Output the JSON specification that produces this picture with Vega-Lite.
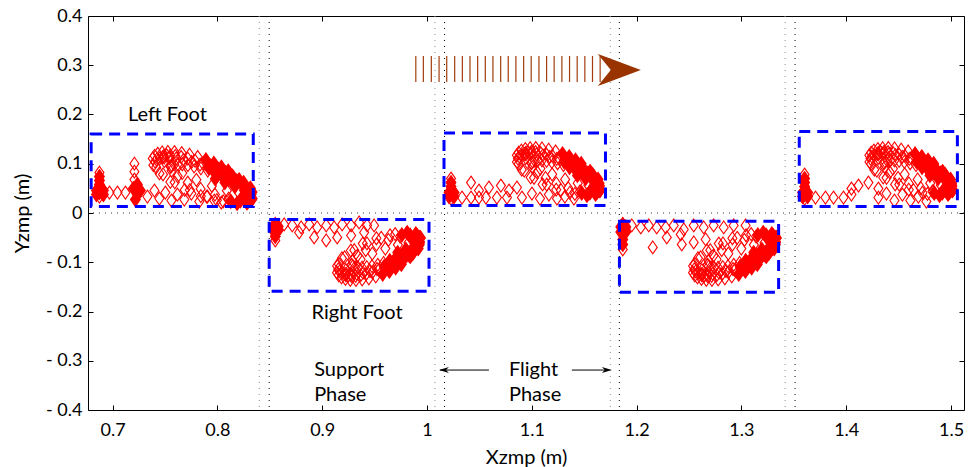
{
  "$schema": "https://vega.github.io/schema/vega-lite/v6.json",
  "width": 876,
  "height": 394,
  "autosize": {"type": "none"},
  "padding": {"left": 88, "top": 16, "right": 10, "bottom": 57},
  "background": "white",
  "config": {
    "view": {"stroke": "#000000", "strokeWidth": 1},
    "axis": {"labelFont": "Lato", "titleFont": "Lato", "grid": false}
  },
  "resolve": {"axis": {"x": "independent", "y": "independent"}},
  "datasets": {
    "zmp": [
      {"x":0.6874,"y":0.082},{"x":0.6874,"y":0.0739},{"x":0.6874,"y":0.0658},{"x":0.6874,"y":0.0577},{"x":0.6874,"y":0.0496},{"x":0.6874,"y":0.0415},{"x":0.6846,"y":0.0456},{"x":0.6912,"y":0.0456},{"x":0.6846,"y":0.0375},{"x":0.6912,"y":0.0375},{"x":0.6874,"y":0.0334},
      {"x":0.697,"y":0.0415},{"x":0.7046,"y":0.0415},{"x":0.7122,"y":0.0415},
      {"x":0.7208,"y":0.1002},{"x":0.7208,"y":0.084},{"x":0.7208,"y":0.0678},
      {"x":0.7198,"y":0.0496},{"x":0.7236,"y":0.0577},{"x":0.7236,"y":0.0375},{"x":0.7217,"y":0.0273},{"x":0.7265,"y":0.0456},
      {"x":0.7332,"y":0.0334},{"x":0.7399,"y":0.0456},{"x":0.7446,"y":0.0294},{"x":0.7503,"y":0.0415},{"x":0.7561,"y":0.0253},{"x":0.7618,"y":0.0375},{"x":0.7684,"y":0.0273},{"x":0.7751,"y":0.0395},{"x":0.7827,"y":0.0233},{"x":0.7904,"y":0.0334},{"x":0.797,"y":0.0253},{"x":0.8037,"y":0.0213},
      {"x":0.8327,"y":0.0273},{"x":0.8282,"y":0.0206},{"x":0.8188,"y":0.0194},{"x":0.8055,"y":0.0237},{"x":0.7898,"y":0.0332},{"x":0.7737,"y":0.0466},{"x":0.7593,"y":0.0622},{"x":0.7481,"y":0.0784},{"x":0.7416,"y":0.0929},{"x":0.7405,"y":0.1043},{"x":0.745,"y":0.111},{"x":0.7544,"y":0.1122},{"x":0.7677,"y":0.1079},{"x":0.7834,"y":0.0984},{"x":0.7995,"y":0.085},{"x":0.8139,"y":0.0694},{"x":0.8251,"y":0.0532},{"x":0.8316,"y":0.0387},
      {"x":0.833,"y":0.0424},{"x":0.8293,"y":0.0387},{"x":0.821,"y":0.0398},{"x":0.809,"y":0.0454},{"x":0.7947,"y":0.055},{"x":0.7799,"y":0.0674},{"x":0.7664,"y":0.081},{"x":0.7558,"y":0.0942},{"x":0.7493,"y":0.1055},{"x":0.7478,"y":0.1134},{"x":0.7515,"y":0.1171},{"x":0.7598,"y":0.116},{"x":0.7718,"y":0.1104},{"x":0.7861,"y":0.1008},{"x":0.8009,"y":0.0884},{"x":0.8144,"y":0.0748},{"x":0.825,"y":0.0616},{"x":0.8315,"y":0.0503},
      {"x":0.8271,"y":0.0369},{"x":0.8223,"y":0.0275},{"x":0.8127,"y":0.0238},{"x":0.7995,"y":0.026},{"x":0.7842,"y":0.0341},{"x":0.7688,"y":0.0469},{"x":0.7551,"y":0.063},{"x":0.7447,"y":0.0804},{"x":0.7389,"y":0.0971},{"x":0.7383,"y":0.1109},{"x":0.7431,"y":0.1203},{"x":0.7527,"y":0.124},{"x":0.7659,"y":0.1218},{"x":0.7812,"y":0.1137},{"x":0.7966,"y":0.1009},{"x":0.8103,"y":0.0848},{"x":0.8207,"y":0.0674},{"x":0.8265,"y":0.0507},
      {"x":0.8332,"y":0.0293},{"x":0.8297,"y":0.0247},{"x":0.8219,"y":0.0247},{"x":0.8107,"y":0.0291},{"x":0.7976,"y":0.0375},{"x":0.784,"y":0.0489},{"x":0.7717,"y":0.0617},{"x":0.7621,"y":0.0745},{"x":0.7563,"y":0.0859},{"x":0.7552,"y":0.0943},{"x":0.7587,"y":0.0989},{"x":0.7665,"y":0.0989},{"x":0.7777,"y":0.0945},{"x":0.7908,"y":0.0861},{"x":0.8044,"y":0.0747},{"x":0.8167,"y":0.0619},{"x":0.8263,"y":0.0491},{"x":0.8321,"y":0.0377},
      {"x":0.742,"y":0.1082},{"x":0.7491,"y":0.1123},{"x":0.7607,"y":0.1107},{"x":0.7754,"y":0.1037},{"x":0.7915,"y":0.0922},
      {"x":0.7489,"y":0.1159},{"x":0.7551,"y":0.1171},{"x":0.7654,"y":0.1137},{"x":0.7787,"y":0.106},{"x":0.7935,"y":0.0949},
      {"x":0.7401,"y":0.1162},{"x":0.7473,"y":0.1229},{"x":0.759,"y":0.1237},{"x":0.7734,"y":0.1185},{"x":0.789,"y":0.1078},
      {"x":0.7564,"y":0.0971},{"x":0.7621,"y":0.0994},{"x":0.7718,"y":0.0972},{"x":0.7842,"y":0.0907},{"x":0.7977,"y":0.0807},

      {"x":0.8552,"y":-0.0233},{"x":0.8552,"y":-0.0314},{"x":0.8552,"y":-0.0395},{"x":0.8552,"y":-0.0476},{"x":0.8552,"y":-0.0557},{"x":0.8533,"y":-0.0273},{"x":0.858,"y":-0.0273},{"x":0.8533,"y":-0.0354},{"x":0.858,"y":-0.0354},
      {"x":0.8637,"y":-0.0233},{"x":0.8714,"y":-0.0253},{"x":0.8799,"y":-0.0294},{"x":0.8876,"y":-0.0233},{"x":0.8952,"y":-0.0294},{"x":0.9038,"y":-0.0253},{"x":0.9114,"y":-0.0294},{"x":0.919,"y":-0.0233},{"x":0.9276,"y":-0.0253},{"x":0.9352,"y":-0.0192},{"x":0.9428,"y":-0.0253},{"x":0.9495,"y":-0.0253},
      {"x":0.8923,"y":-0.0496},{"x":0.9038,"y":-0.0557},{"x":0.9143,"y":-0.0496},{"x":0.9276,"y":-0.0456},{"x":0.94,"y":-0.0395},{"x":0.878,"y":-0.0395},
      {"x":0.9933,"y":-0.0495},{"x":0.9893,"y":-0.0424},{"x":0.9811,"y":-0.0401},{"x":0.9696,"y":-0.0428},{"x":0.9563,"y":-0.0503},{"x":0.9427,"y":-0.0617},{"x":0.9306,"y":-0.0754},{"x":0.9213,"y":-0.0899},{"x":0.9159,"y":-0.1036},{"x":0.9153,"y":-0.1145},{"x":0.9193,"y":-0.1216},{"x":0.9275,"y":-0.1239},{"x":0.939,"y":-0.1212},{"x":0.9523,"y":-0.1137},{"x":0.9659,"y":-0.1023},{"x":0.978,"y":-0.0886},{"x":0.9873,"y":-0.0741},{"x":0.9927,"y":-0.0604},
      {"x":0.9926,"y":-0.0646},{"x":0.9894,"y":-0.0606},{"x":0.9823,"y":-0.0606},{"x":0.9722,"y":-0.0647},{"x":0.9602,"y":-0.0723},{"x":0.9478,"y":-0.0827},{"x":0.9366,"y":-0.0943},{"x":0.9279,"y":-0.106},{"x":0.9226,"y":-0.1162},{"x":0.9216,"y":-0.1238},{"x":0.9248,"y":-0.1278},{"x":0.9319,"y":-0.1278},{"x":0.942,"y":-0.1237},{"x":0.954,"y":-0.1161},{"x":0.9664,"y":-0.1057},{"x":0.9776,"y":-0.0941},{"x":0.9863,"y":-0.0824},{"x":0.9916,"y":-0.0722},
      {"x":0.9887,"y":-0.0591},{"x":0.9844,"y":-0.0494},{"x":0.976,"y":-0.0446},{"x":0.9647,"y":-0.0452},{"x":0.9517,"y":-0.0513},{"x":0.9387,"y":-0.0621},{"x":0.9273,"y":-0.0762},{"x":0.9188,"y":-0.092},{"x":0.9142,"y":-0.1076},{"x":0.9141,"y":-0.1211},{"x":0.9184,"y":-0.1308},{"x":0.9268,"y":-0.1356},{"x":0.9381,"y":-0.135},{"x":0.9511,"y":-0.1289},{"x":0.9641,"y":-0.1181},{"x":0.9755,"y":-0.104},{"x":0.984,"y":-0.0882},{"x":0.9886,"y":-0.0726},
      {"x":0.9937,"y":-0.0507},{"x":0.9905,"y":-0.0458},{"x":0.9838,"y":-0.0449},{"x":0.9743,"y":-0.0479},{"x":0.9632,"y":-0.0546},{"x":0.9518,"y":-0.0642},{"x":0.9415,"y":-0.0753},{"x":0.9336,"y":-0.0867},{"x":0.9289,"y":-0.0972},{"x":0.9281,"y":-0.1053},{"x":0.9313,"y":-0.1102},{"x":0.938,"y":-0.1111},{"x":0.9475,"y":-0.1081},{"x":0.9586,"y":-0.1014},{"x":0.97,"y":-0.0918},{"x":0.9803,"y":-0.0807},{"x":0.9882,"y":-0.0693},{"x":0.9929,"y":-0.0588},
      {"x":0.9167,"y":-0.1186},{"x":0.9229,"y":-0.1233},{"x":0.9329,"y":-0.1231},{"x":0.9456,"y":-0.1179},{"x":0.9592,"y":-0.1084},
      {"x":0.9226,"y":-0.1264},{"x":0.928,"y":-0.1283},{"x":0.9367,"y":-0.1262},{"x":0.9479,"y":-0.1203},{"x":0.9602,"y":-0.1112},
      {"x":0.9158,"y":-0.1265},{"x":0.9222,"y":-0.1339},{"x":0.9322,"y":-0.136},{"x":0.9445,"y":-0.1326},{"x":0.9577,"y":-0.124},
      {"x":0.9292,"y":-0.1082},{"x":0.9342,"y":-0.1111},{"x":0.9425,"y":-0.1101},{"x":0.953,"y":-0.1051},{"x":0.9644,"y":-0.0969},

      {"x":1.0229,"y":0.0699},{"x":1.0229,"y":0.0618},{"x":1.0229,"y":0.0537},{"x":1.0229,"y":0.0456},{"x":1.0229,"y":0.0375},{"x":1.0229,"y":0.0294},{"x":1.021,"y":0.0415},{"x":1.0258,"y":0.0415},{"x":1.021,"y":0.0334},{"x":1.0258,"y":0.0334},
      {"x":1.0334,"y":0.0314},{"x":1.042,"y":0.0314},{"x":1.0496,"y":0.0314},{"x":1.0562,"y":0.0314},{"x":1.0667,"y":0.0314},{"x":1.0763,"y":0.0314},{"x":1.042,"y":0.0618},{"x":1.0496,"y":0.0456},{"x":1.0591,"y":0.0517},{"x":1.0705,"y":0.0557},{"x":1.0782,"y":0.0456},{"x":1.0858,"y":0.0517},
      {"x":1.0906,"y":0.0314},{"x":1.1001,"y":0.0395},{"x":1.1078,"y":0.0294},{"x":1.1163,"y":0.0375},{"x":1.124,"y":0.0294},{"x":1.1316,"y":0.0334},{"x":1.1402,"y":0.0294},
      {"x":1.1648,"y":0.0455},{"x":1.1608,"y":0.0384},{"x":1.1526,"y":0.0361},{"x":1.1411,"y":0.0388},{"x":1.1278,"y":0.0463},{"x":1.1142,"y":0.0577},{"x":1.1021,"y":0.0714},{"x":1.0928,"y":0.0859},{"x":1.0874,"y":0.0996},{"x":1.0868,"y":0.1105},{"x":1.0908,"y":0.1176},{"x":1.099,"y":0.1199},{"x":1.1105,"y":0.1172},{"x":1.1238,"y":0.1097},{"x":1.1374,"y":0.0983},{"x":1.1495,"y":0.0846},{"x":1.1588,"y":0.0701},{"x":1.1642,"y":0.0564},
      {"x":1.1642,"y":0.0605},{"x":1.161,"y":0.0565},{"x":1.1539,"y":0.0565},{"x":1.1438,"y":0.0606},{"x":1.1318,"y":0.0682},{"x":1.1194,"y":0.0786},{"x":1.1082,"y":0.0902},{"x":1.0995,"y":0.1019},{"x":1.0942,"y":0.1121},{"x":1.0932,"y":0.1197},{"x":1.0964,"y":0.1237},{"x":1.1035,"y":0.1237},{"x":1.1136,"y":0.1196},{"x":1.1256,"y":0.112},{"x":1.138,"y":0.1016},{"x":1.1492,"y":0.09},{"x":1.1579,"y":0.0783},{"x":1.1632,"y":0.0681},
      {"x":1.1603,"y":0.0551},{"x":1.156,"y":0.0454},{"x":1.1476,"y":0.0406},{"x":1.1363,"y":0.0412},{"x":1.1233,"y":0.0473},{"x":1.1103,"y":0.0581},{"x":1.0989,"y":0.0722},{"x":1.0904,"y":0.088},{"x":1.0858,"y":0.1036},{"x":1.0857,"y":0.1171},{"x":1.09,"y":0.1268},{"x":1.0984,"y":0.1316},{"x":1.1097,"y":0.131},{"x":1.1227,"y":0.1249},{"x":1.1357,"y":0.1141},{"x":1.1471,"y":0.1},{"x":1.1556,"y":0.0842},{"x":1.1602,"y":0.0686},
      {"x":1.1653,"y":0.0466},{"x":1.1621,"y":0.0417},{"x":1.1554,"y":0.0408},{"x":1.1459,"y":0.0438},{"x":1.1348,"y":0.0505},{"x":1.1234,"y":0.0601},{"x":1.1131,"y":0.0712},{"x":1.1052,"y":0.0826},{"x":1.1005,"y":0.0931},{"x":1.0997,"y":0.1012},{"x":1.1029,"y":0.1061},{"x":1.1096,"y":0.107},{"x":1.1191,"y":0.104},{"x":1.1302,"y":0.0973},{"x":1.1416,"y":0.0877},{"x":1.1519,"y":0.0766},{"x":1.1598,"y":0.0652},{"x":1.1645,"y":0.0547},
      {"x":1.0882,"y":0.1146},{"x":1.0944,"y":0.1193},{"x":1.1044,"y":0.1191},{"x":1.1171,"y":0.1139},{"x":1.1307,"y":0.1044},
      {"x":1.0942,"y":0.1223},{"x":1.0996,"y":0.1242},{"x":1.1083,"y":0.1221},{"x":1.1195,"y":0.1162},{"x":1.1318,"y":0.1071},
      {"x":1.0874,"y":0.1225},{"x":1.0938,"y":0.1299},{"x":1.1038,"y":0.132},{"x":1.1161,"y":0.1286},{"x":1.1293,"y":0.12},
      {"x":1.1008,"y":0.1041},{"x":1.1058,"y":0.107},{"x":1.1141,"y":0.106},{"x":1.1246,"y":0.101},{"x":1.136,"y":0.0928},

      {"x":1.1868,"y":-0.0233},{"x":1.1868,"y":-0.0334},{"x":1.1868,"y":-0.0435},{"x":1.1868,"y":-0.0537},{"x":1.1868,"y":-0.0638},{"x":1.1868,"y":-0.0739},{"x":1.1849,"y":-0.0284},{"x":1.1897,"y":-0.0284},{"x":1.1849,"y":-0.0385},{"x":1.1897,"y":-0.0385},
      {"x":1.1954,"y":-0.0253},{"x":1.204,"y":-0.0294},{"x":1.2116,"y":-0.0253},{"x":1.2192,"y":-0.0294},{"x":1.2278,"y":-0.0294},{"x":1.2354,"y":-0.0253},{"x":1.245,"y":-0.0334},{"x":1.2545,"y":-0.0253},{"x":1.264,"y":-0.0294},{"x":1.2735,"y":-0.0253},{"x":1.2831,"y":-0.0294},{"x":1.2926,"y":-0.0253},{"x":1.304,"y":-0.0253},
      {"x":1.2154,"y":-0.0699},
      {"x":1.2288,"y":-0.0496},{"x":1.2421,"y":-0.0435},{"x":1.2545,"y":-0.0597},{"x":1.2431,"y":-0.0638},{"x":1.2659,"y":-0.0537},
      {"x":1.333,"y":-0.0495},{"x":1.329,"y":-0.0424},{"x":1.3208,"y":-0.0401},{"x":1.3093,"y":-0.0428},{"x":1.296,"y":-0.0503},{"x":1.2824,"y":-0.0617},{"x":1.2703,"y":-0.0754},{"x":1.261,"y":-0.0899},{"x":1.2556,"y":-0.1036},{"x":1.255,"y":-0.1145},{"x":1.259,"y":-0.1216},{"x":1.2672,"y":-0.1239},{"x":1.2787,"y":-0.1212},{"x":1.292,"y":-0.1137},{"x":1.3056,"y":-0.1023},{"x":1.3177,"y":-0.0886},{"x":1.327,"y":-0.0741},{"x":1.3324,"y":-0.0604},
      {"x":1.3323,"y":-0.0646},{"x":1.3291,"y":-0.0606},{"x":1.322,"y":-0.0606},{"x":1.3119,"y":-0.0647},{"x":1.2999,"y":-0.0723},{"x":1.2875,"y":-0.0827},{"x":1.2763,"y":-0.0943},{"x":1.2676,"y":-0.106},{"x":1.2623,"y":-0.1162},{"x":1.2613,"y":-0.1238},{"x":1.2645,"y":-0.1278},{"x":1.2716,"y":-0.1278},{"x":1.2817,"y":-0.1237},{"x":1.2937,"y":-0.1161},{"x":1.3061,"y":-0.1057},{"x":1.3173,"y":-0.0941},{"x":1.326,"y":-0.0824},{"x":1.3313,"y":-0.0722},
      {"x":1.3284,"y":-0.0591},{"x":1.3241,"y":-0.0494},{"x":1.3157,"y":-0.0446},{"x":1.3044,"y":-0.0452},{"x":1.2914,"y":-0.0513},{"x":1.2784,"y":-0.0621},{"x":1.267,"y":-0.0762},{"x":1.2585,"y":-0.092},{"x":1.2539,"y":-0.1076},{"x":1.2538,"y":-0.1211},{"x":1.2581,"y":-0.1308},{"x":1.2665,"y":-0.1356},{"x":1.2778,"y":-0.135},{"x":1.2908,"y":-0.1289},{"x":1.3038,"y":-0.1181},{"x":1.3152,"y":-0.104},{"x":1.3237,"y":-0.0882},{"x":1.3283,"y":-0.0726},
      {"x":1.3334,"y":-0.0507},{"x":1.3302,"y":-0.0458},{"x":1.3235,"y":-0.0449},{"x":1.314,"y":-0.0479},{"x":1.3029,"y":-0.0546},{"x":1.2915,"y":-0.0642},{"x":1.2812,"y":-0.0753},{"x":1.2733,"y":-0.0867},{"x":1.2686,"y":-0.0972},{"x":1.2678,"y":-0.1053},{"x":1.271,"y":-0.1102},{"x":1.2777,"y":-0.1111},{"x":1.2872,"y":-0.1081},{"x":1.2983,"y":-0.1014},{"x":1.3097,"y":-0.0918},{"x":1.32,"y":-0.0807},{"x":1.3279,"y":-0.0693},{"x":1.3326,"y":-0.0588},
      {"x":1.2564,"y":-0.1186},{"x":1.2626,"y":-0.1233},{"x":1.2726,"y":-0.1231},{"x":1.2853,"y":-0.1179},{"x":1.2989,"y":-0.1084},
      {"x":1.2623,"y":-0.1264},{"x":1.2677,"y":-0.1283},{"x":1.2764,"y":-0.1262},{"x":1.2876,"y":-0.1203},{"x":1.2999,"y":-0.1112},
      {"x":1.2555,"y":-0.1265},{"x":1.2619,"y":-0.1339},{"x":1.2719,"y":-0.136},{"x":1.2842,"y":-0.1326},{"x":1.2974,"y":-0.124},
      {"x":1.2689,"y":-0.1082},{"x":1.2739,"y":-0.1111},{"x":1.2822,"y":-0.1101},{"x":1.2927,"y":-0.1051},{"x":1.3041,"y":-0.0969},

      {"x":1.3603,"y":0.078},{"x":1.3603,"y":0.0699},{"x":1.3603,"y":0.0618},{"x":1.3603,"y":0.0537},{"x":1.3603,"y":0.0456},{"x":1.3603,"y":0.0375},{"x":1.3603,"y":0.0294},{"x":1.3584,"y":0.0415},{"x":1.3632,"y":0.0415},{"x":1.3584,"y":0.0334},{"x":1.3632,"y":0.0334},
      {"x":1.3707,"y":0.0314},{"x":1.3802,"y":0.0314},{"x":1.3879,"y":0.0314},{"x":1.3974,"y":0.0314},{"x":1.405,"y":0.0375},{"x":1.4117,"y":0.0557},{"x":1.4212,"y":0.0618},{"x":1.4307,"y":0.0496},{"x":1.405,"y":0.0496},
      {"x":1.4307,"y":0.0314},{"x":1.4384,"y":0.0395},{"x":1.446,"y":0.0253},{"x":1.4536,"y":0.0375},{"x":1.4612,"y":0.0253},{"x":1.4689,"y":0.0334},{"x":1.4765,"y":0.0233},
      {"x":1.5012,"y":0.0455},{"x":1.4972,"y":0.0384},{"x":1.489,"y":0.0361},{"x":1.4775,"y":0.0388},{"x":1.4642,"y":0.0463},{"x":1.4506,"y":0.0577},{"x":1.4385,"y":0.0714},{"x":1.4292,"y":0.0859},{"x":1.4238,"y":0.0996},{"x":1.4232,"y":0.1105},{"x":1.4272,"y":0.1176},{"x":1.4354,"y":0.1199},{"x":1.4469,"y":0.1172},{"x":1.4602,"y":0.1097},{"x":1.4738,"y":0.0983},{"x":1.4859,"y":0.0846},{"x":1.4952,"y":0.0701},{"x":1.5006,"y":0.0564},
      {"x":1.5006,"y":0.0605},{"x":1.4974,"y":0.0565},{"x":1.4903,"y":0.0565},{"x":1.4802,"y":0.0606},{"x":1.4682,"y":0.0682},{"x":1.4558,"y":0.0786},{"x":1.4446,"y":0.0902},{"x":1.4359,"y":0.1019},{"x":1.4306,"y":0.1121},{"x":1.4296,"y":0.1197},{"x":1.4328,"y":0.1237},{"x":1.4399,"y":0.1237},{"x":1.45,"y":0.1196},{"x":1.462,"y":0.112},{"x":1.4744,"y":0.1016},{"x":1.4856,"y":0.09},{"x":1.4943,"y":0.0783},{"x":1.4996,"y":0.0681},
      {"x":1.4967,"y":0.0551},{"x":1.4924,"y":0.0454},{"x":1.484,"y":0.0406},{"x":1.4727,"y":0.0412},{"x":1.4597,"y":0.0473},{"x":1.4467,"y":0.0581},{"x":1.4353,"y":0.0722},{"x":1.4268,"y":0.088},{"x":1.4222,"y":0.1036},{"x":1.4221,"y":0.1171},{"x":1.4264,"y":0.1268},{"x":1.4348,"y":0.1316},{"x":1.4461,"y":0.131},{"x":1.4591,"y":0.1249},{"x":1.4721,"y":0.1141},{"x":1.4835,"y":0.1},{"x":1.492,"y":0.0842},{"x":1.4966,"y":0.0686},
      {"x":1.5017,"y":0.0466},{"x":1.4985,"y":0.0417},{"x":1.4918,"y":0.0408},{"x":1.4823,"y":0.0438},{"x":1.4712,"y":0.0505},{"x":1.4598,"y":0.0601},{"x":1.4495,"y":0.0712},{"x":1.4416,"y":0.0826},{"x":1.4369,"y":0.0931},{"x":1.4361,"y":0.1012},{"x":1.4393,"y":0.1061},{"x":1.446,"y":0.107},{"x":1.4555,"y":0.104},{"x":1.4666,"y":0.0973},{"x":1.478,"y":0.0877},{"x":1.4883,"y":0.0766},{"x":1.4962,"y":0.0652},{"x":1.5009,"y":0.0547},
      {"x":1.4246,"y":0.1146},{"x":1.4308,"y":0.1193},{"x":1.4408,"y":0.1191},{"x":1.4535,"y":0.1139},{"x":1.4671,"y":0.1044},
      {"x":1.4306,"y":0.1223},{"x":1.436,"y":0.1242},{"x":1.4447,"y":0.1221},{"x":1.4559,"y":0.1162},{"x":1.4682,"y":0.1071},
      {"x":1.4238,"y":0.1225},{"x":1.4302,"y":0.1299},{"x":1.4402,"y":0.132},{"x":1.4525,"y":0.1286},{"x":1.4657,"y":0.12},
      {"x":1.4372,"y":0.1041},{"x":1.4422,"y":0.107},{"x":1.4505,"y":0.106},{"x":1.461,"y":0.101},{"x":1.4724,"y":0.0928}
    ],
    "zmpDense": [
      {"x":0.8139,"y":0.0694},{"x":0.8251,"y":0.0532},{"x":0.8316,"y":0.0387},{"x":0.8327,"y":0.0273},{"x":0.8282,"y":0.0206},{"x":0.8188,"y":0.0194},{"x":0.7995,"y":0.085},
      {"x":0.8144,"y":0.0748},{"x":0.825,"y":0.0616},{"x":0.8315,"y":0.0503},{"x":0.833,"y":0.0424},{"x":0.8293,"y":0.0387},{"x":0.8009,"y":0.0884},
      {"x":0.8103,"y":0.0848},{"x":0.8207,"y":0.0674},{"x":0.8265,"y":0.0507},{"x":0.8271,"y":0.0369},{"x":0.8223,"y":0.0275},{"x":0.8127,"y":0.0238},{"x":0.7966,"y":0.1009},
      {"x":0.8167,"y":0.0619},{"x":0.8263,"y":0.0491},{"x":0.8321,"y":0.0377},{"x":0.8332,"y":0.0293},{"x":0.8297,"y":0.0247},{"x":0.8219,"y":0.0247},{"x":0.8044,"y":0.0747},
      {"x":0.807,"y":0.0775},{"x":0.8079,"y":0.0818},{"x":0.8038,"y":0.0931},{"x":0.8108,"y":0.0685},
      {"x":0.7915,"y":0.0922},{"x":0.7935,"y":0.0949},{"x":0.789,"y":0.1078},{"x":0.7977,"y":0.0807},
      {"x":0.7979,"y":0.0694},{"x":0.8071,"y":0.0617},{"x":0.8164,"y":0.0541},{"x":0.8256,"y":0.0464},{"x":0.8,"y":0.0807},{"x":0.8092,"y":0.073},{"x":0.8185,"y":0.0654},
      {"x":0.6874,"y":0.0739},{"x":0.6874,"y":0.0658},{"x":0.6874,"y":0.0577},{"x":0.6874,"y":0.0496},{"x":0.6874,"y":0.0415},{"x":0.6846,"y":0.0456},{"x":0.6912,"y":0.0456},{"x":0.6846,"y":0.0375},{"x":0.6912,"y":0.0375},
      {"x":0.7198,"y":0.0496},{"x":0.7236,"y":0.0577},{"x":0.7236,"y":0.0375},{"x":0.7217,"y":0.0273},{"x":0.7265,"y":0.0456},

      {"x":0.9659,"y":-0.1023},{"x":0.978,"y":-0.0886},{"x":0.9873,"y":-0.0741},{"x":0.9927,"y":-0.0604},{"x":0.9933,"y":-0.0495},{"x":0.9893,"y":-0.0424},{"x":0.9811,"y":-0.0401},
      {"x":0.9664,"y":-0.1057},{"x":0.9776,"y":-0.0941},{"x":0.9863,"y":-0.0824},{"x":0.9916,"y":-0.0722},{"x":0.9926,"y":-0.0646},{"x":0.9894,"y":-0.0606},
      {"x":0.9641,"y":-0.1181},{"x":0.9755,"y":-0.104},{"x":0.984,"y":-0.0882},{"x":0.9886,"y":-0.0726},{"x":0.9887,"y":-0.0591},{"x":0.9844,"y":-0.0494},{"x":0.976,"y":-0.0446},
      {"x":0.9803,"y":-0.0807},{"x":0.9882,"y":-0.0693},{"x":0.9929,"y":-0.0588},{"x":0.9937,"y":-0.0507},{"x":0.9905,"y":-0.0458},{"x":0.9838,"y":-0.0449},{"x":0.97,"y":-0.0918},
      {"x":0.9722,"y":-0.0957},{"x":0.9721,"y":-0.1001},{"x":0.9701,"y":-0.1114},{"x":0.9754,"y":-0.0865},
      {"x":0.9592,"y":-0.1084},{"x":0.9602,"y":-0.1112},{"x":0.9577,"y":-0.124},{"x":0.9644,"y":-0.0969},
      {"x":0.972,"y":-0.0803},{"x":0.9798,"y":-0.0738},{"x":0.9876,"y":-0.0673},{"x":0.9741,"y":-0.0916},{"x":0.9819,"y":-0.0851},
      {"x":0.8552,"y":-0.0233},{"x":0.8552,"y":-0.0314},{"x":0.8552,"y":-0.0395},{"x":0.8552,"y":-0.0476},{"x":0.8533,"y":-0.0273},{"x":0.858,"y":-0.0273},{"x":0.8533,"y":-0.0354},{"x":0.858,"y":-0.0354},

      {"x":1.1374,"y":0.0983},{"x":1.1495,"y":0.0846},{"x":1.1588,"y":0.0701},{"x":1.1642,"y":0.0564},{"x":1.1648,"y":0.0455},{"x":1.1608,"y":0.0384},{"x":1.1526,"y":0.0361},
      {"x":1.138,"y":0.1016},{"x":1.1492,"y":0.09},{"x":1.1579,"y":0.0783},{"x":1.1632,"y":0.0681},{"x":1.1642,"y":0.0605},{"x":1.161,"y":0.0565},
      {"x":1.1357,"y":0.1141},{"x":1.1471,"y":0.1},{"x":1.1556,"y":0.0842},{"x":1.1602,"y":0.0686},{"x":1.1603,"y":0.0551},{"x":1.156,"y":0.0454},{"x":1.1476,"y":0.0406},
      {"x":1.1519,"y":0.0766},{"x":1.1598,"y":0.0652},{"x":1.1645,"y":0.0547},{"x":1.1653,"y":0.0466},{"x":1.1621,"y":0.0417},{"x":1.1554,"y":0.0408},{"x":1.1416,"y":0.0877},
      {"x":1.1437,"y":0.0917},{"x":1.1437,"y":0.096},{"x":1.1417,"y":0.1074},{"x":1.147,"y":0.0824},
      {"x":1.1307,"y":0.1044},{"x":1.1318,"y":0.1071},{"x":1.1293,"y":0.12},{"x":1.136,"y":0.0928},
      {"x":1.1435,"y":0.0763},{"x":1.1513,"y":0.0698},{"x":1.1591,"y":0.0633},{"x":1.1456,"y":0.0876},{"x":1.1534,"y":0.0811},
      {"x":1.0229,"y":0.0618},{"x":1.0229,"y":0.0537},{"x":1.0229,"y":0.0456},{"x":1.0229,"y":0.0375},{"x":1.021,"y":0.0415},{"x":1.0258,"y":0.0415},{"x":1.021,"y":0.0334},{"x":1.0258,"y":0.0334},

      {"x":1.3056,"y":-0.1023},{"x":1.3177,"y":-0.0886},{"x":1.327,"y":-0.0741},{"x":1.3324,"y":-0.0604},{"x":1.333,"y":-0.0495},{"x":1.329,"y":-0.0424},{"x":1.3208,"y":-0.0401},
      {"x":1.3061,"y":-0.1057},{"x":1.3173,"y":-0.0941},{"x":1.326,"y":-0.0824},{"x":1.3313,"y":-0.0722},{"x":1.3323,"y":-0.0646},{"x":1.3291,"y":-0.0606},
      {"x":1.3038,"y":-0.1181},{"x":1.3152,"y":-0.104},{"x":1.3237,"y":-0.0882},{"x":1.3283,"y":-0.0726},{"x":1.3284,"y":-0.0591},{"x":1.3241,"y":-0.0494},{"x":1.3157,"y":-0.0446},
      {"x":1.32,"y":-0.0807},{"x":1.3279,"y":-0.0693},{"x":1.3326,"y":-0.0588},{"x":1.3334,"y":-0.0507},{"x":1.3302,"y":-0.0458},{"x":1.3235,"y":-0.0449},{"x":1.3097,"y":-0.0918},
      {"x":1.3119,"y":-0.0957},{"x":1.3118,"y":-0.1001},{"x":1.3098,"y":-0.1114},{"x":1.3151,"y":-0.0865},
      {"x":1.2989,"y":-0.1084},{"x":1.2999,"y":-0.1112},{"x":1.2974,"y":-0.124},{"x":1.3041,"y":-0.0969},
      {"x":1.3117,"y":-0.0803},{"x":1.3195,"y":-0.0738},{"x":1.3273,"y":-0.0673},{"x":1.3138,"y":-0.0916},{"x":1.3216,"y":-0.0851},
      {"x":1.1868,"y":-0.0233},{"x":1.1868,"y":-0.0334},{"x":1.1868,"y":-0.0435},{"x":1.1868,"y":-0.0537},{"x":1.1868,"y":-0.0638},{"x":1.1849,"y":-0.0284},{"x":1.1897,"y":-0.0284},{"x":1.1849,"y":-0.0385},{"x":1.1897,"y":-0.0385},

      {"x":1.4738,"y":0.0983},{"x":1.4859,"y":0.0846},{"x":1.4952,"y":0.0701},{"x":1.5006,"y":0.0564},{"x":1.5012,"y":0.0455},{"x":1.4972,"y":0.0384},{"x":1.489,"y":0.0361},
      {"x":1.4744,"y":0.1016},{"x":1.4856,"y":0.09},{"x":1.4943,"y":0.0783},{"x":1.4996,"y":0.0681},{"x":1.5006,"y":0.0605},{"x":1.4974,"y":0.0565},
      {"x":1.4721,"y":0.1141},{"x":1.4835,"y":0.1},{"x":1.492,"y":0.0842},{"x":1.4966,"y":0.0686},{"x":1.4967,"y":0.0551},{"x":1.4924,"y":0.0454},{"x":1.484,"y":0.0406},
      {"x":1.4883,"y":0.0766},{"x":1.4962,"y":0.0652},{"x":1.5009,"y":0.0547},{"x":1.5017,"y":0.0466},{"x":1.4985,"y":0.0417},{"x":1.4918,"y":0.0408},{"x":1.478,"y":0.0877},
      {"x":1.4801,"y":0.0917},{"x":1.4801,"y":0.096},{"x":1.4781,"y":0.1074},{"x":1.4834,"y":0.0824},
      {"x":1.4671,"y":0.1044},{"x":1.4682,"y":0.1071},{"x":1.4657,"y":0.12},{"x":1.4724,"y":0.0928},
      {"x":1.4799,"y":0.0763},{"x":1.4877,"y":0.0698},{"x":1.4955,"y":0.0633},{"x":1.482,"y":0.0876},{"x":1.4898,"y":0.0811},
      {"x":1.3603,"y":0.0699},{"x":1.3603,"y":0.0618},{"x":1.3603,"y":0.0537},{"x":1.3603,"y":0.0456},{"x":1.3603,"y":0.0375},{"x":1.3584,"y":0.0415},{"x":1.3632,"y":0.0415},{"x":1.3584,"y":0.0334},{"x":1.3632,"y":0.0334}
    ],
    "feet": [
      {"x":0.6795,"x2":0.8342,"y":0.1604,"y2":0.0132},
      {"x":0.8494,"x2":1.0019,"y":-0.0132,"y2":-0.159},
      {"x":1.0162,"x2":1.1703,"y":0.1624,"y2":0.0152},
      {"x":1.1836,"x2":1.3355,"y":-0.0166,"y2":-0.161},
      {"x":1.3552,"x2":1.5061,"y":0.1656,"y2":0.0132}
    ],
    "quiver": [
      {"x":0.9893},{"x":0.9965},{"x":1.0041},{"x":1.0115},{"x":1.0188},{"x":1.0264},{"x":1.0337},{"x":1.041},{"x":1.0483},{"x":1.0556},{"x":1.0629},{"x":1.0703},{"x":1.0775},{"x":1.0848},{"x":1.0922},{"x":1.0994},{"x":1.1068},{"x":1.1141},{"x":1.1213},{"x":1.1287},{"x":1.136},{"x":1.1433},{"x":1.1506},{"x":1.1579},{"x":1.1652}
    ],
    "head": [
      {"x":1.163,"top":0.3228,"bottom":0.3228,"half":"upper"},
      {"x":1.1754,"top":0.3131,"bottom":0.2904,"half":"upper"},
      {"x":1.204,"top":0.2904,"bottom":0.2904,"half":"upper"},
      {"x":1.163,"top":0.2579,"bottom":0.2579,"half":"lower"},
      {"x":1.1754,"top":0.2904,"bottom":0.2676,"half":"lower"},
      {"x":1.204,"top":0.2904,"bottom":0.2904,"half":"lower"}
    ]
  },
  "layer": [
    {
      "data": {"values": [{"x":0.8399},{"x":1.0076},{"x":1.1749},{"x":1.3417}]},
      "mark": {"type": "rule", "stroke": "#8c8c8c", "strokeWidth": 1, "strokeDash": [1, 5]},
      "encoding": {"x": {"field": "x", "type": "quantitative", "scale": {"domain": [0.6765, 1.5124], "nice": false, "zero": false}, "axis": null}}
    },
    {
      "data": {"values": [{"x":0.8494},{"x":1.0167},{"x":1.1835},{"x":1.3512}]},
      "mark": {"type": "rule", "stroke": "#000000", "strokeWidth": 1, "strokeDash": [1, 5]},
      "encoding": {"x": {"field": "x", "type": "quantitative", "scale": {"domain": [0.6765, 1.5124], "nice": false, "zero": false}, "axis": null}}
    },
    {
      "data": {"values": [{"y": 0}]},
      "mark": {"type": "rule", "stroke": "#333333", "strokeWidth": 1, "strokeDash": [1, 5]},
      "encoding": {"y": {"field": "y", "type": "quantitative", "scale": {"domain": [-0.4, 0.4], "nice": false, "zero": false}, "axis": null}}
    },
    {
      "data": {"name": "zmpDense"},
      "mark": {"type": "point", "shape": "M0,-1L0.7,0L0,1L-0.7,0Z", "size": 250, "filled": true, "fill": "#ff0000", "strokeWidth": 0, "opacity": 1},
      "encoding": {
        "x": {"field": "x", "type": "quantitative", "scale": {"domain": [0.6765, 1.5124], "nice": false, "zero": false}, "axis": null},
        "y": {"field": "y", "type": "quantitative", "scale": {"domain": [-0.4, 0.4], "nice": false, "zero": false}, "axis": null}
      }
    },
    {
      "data": {"name": "zmp"},
      "mark": {"type": "point", "shape": "M0,-1L0.7,0L0,1L-0.7,0Z", "size": 165, "filled": false, "stroke": "#ff0000", "strokeWidth": 1.1, "opacity": 1},
      "encoding": {
        "x": {"field": "x", "type": "quantitative", "scale": {"domain": [0.6765, 1.5124], "nice": false, "zero": false},
          "axis": {"orient": "bottom", "values": [0.7,0.8,0.9,1,1.1,1.2,1.3,1.4,1.5], "format": "~g", "domain": false, "tickSize": -5, "tickColor": "#000000", "tickWidth": 1,
            "labelPadding": 16, "labelFontSize": 18, "labelColor": "#000000", "labelFlush": false, "labelOverlap": false,
            "title": "Xzmp (m)", "titleFontSize": 20, "titleFontWeight": "normal", "titleColor": "#000000", "titleX": 438, "titleY": 47, "titleBaseline": "middle", "titleAlign": "center"}},
        "y": {"field": "y", "type": "quantitative", "scale": {"domain": [-0.4, 0.4], "nice": false, "zero": false},
          "axis": {"orient": "left", "values": [-0.4,-0.3,-0.2,-0.1,0,0.1,0.2,0.3,0.4], "labelExpr": "datum.value < -0.001 ? '- ' + format(-datum.value, '.1f') : (abs(datum.value) < 0.001 ? '0' : format(datum.value, '.1f'))",
            "domain": false, "tickSize": -5, "tickColor": "#000000", "tickWidth": 1,
            "labelPadding": 11, "labelFontSize": 18, "labelColor": "#000000", "labelFlush": false, "labelOverlap": false,
            "title": "Yzmp (m)", "titleFontSize": 20, "titleFontWeight": "normal", "titleColor": "#000000", "titleX": -66, "titleY": 197, "titleAngle": -90, "titleBaseline": "middle", "titleAlign": "center"}}
      }
    },
    {
      "data": {"name": "feet"},
      "mark": {"type": "rect", "filled": false, "stroke": "#0000ff", "strokeWidth": 3, "strokeDash": [11, 7]},
      "encoding": {
        "x": {"field": "x", "type": "quantitative", "scale": {"domain": [0.6765, 1.5124], "nice": false, "zero": false},
          "axis": {"orient": "top", "values": [0.7,0.8,0.9,1,1.1,1.2,1.3,1.4,1.5], "labels": false, "domain": false, "tickSize": -5, "tickColor": "#000000", "title": null}},
        "x2": {"field": "x2"},
        "y": {"field": "y", "type": "quantitative", "scale": {"domain": [-0.4, 0.4], "nice": false, "zero": false},
          "axis": {"orient": "right", "values": [-0.4,-0.3,-0.2,-0.1,0,0.1,0.2,0.3,0.4], "labels": false, "domain": false, "tickSize": -5, "tickColor": "#000000", "title": null}},
        "y2": {"field": "y2"}
      }
    },
    {
      "data": {"name": "quiver"},
      "mark": {"type": "rule", "stroke": "#a23d0c", "strokeWidth": 1.2},
      "encoding": {
        "x": {"field": "x", "type": "quantitative", "scale": {"domain": [0.6765, 1.5124], "nice": false, "zero": false}, "axis": null},
        "y": {"datum": 0.266, "type": "quantitative", "scale": {"domain": [-0.4, 0.4], "nice": false, "zero": false}, "axis": null},
        "y2": {"datum": 0.3188}
      }
    },
    {
      "data": {"name": "head"},
      "mark": {"type": "area", "fill": "#993300", "stroke": null, "opacity": 1},
      "encoding": {
        "x": {"field": "x", "type": "quantitative", "scale": {"domain": [0.6765, 1.5124], "nice": false, "zero": false}, "axis": null},
        "y": {"field": "top", "type": "quantitative", "scale": {"domain": [-0.4, 0.4], "nice": false, "zero": false}, "axis": null},
        "y2": {"field": "bottom"},
        "detail": {"field": "half"}
      }
    },
    {
      "data": {"values": [
        {"x":0.7522,"y":0.199,"text":"Left Foot"},
        {"x":0.9333,"y":-0.203,"text":"Right Foot"}
      ]},
      "mark": {"type": "text", "font": "Lato", "fontSize": 20, "color": "#000000", "align": "center", "baseline": "middle"},
      "encoding": {
        "x": {"field": "x", "type": "quantitative", "scale": {"domain": [0.6765, 1.5124], "nice": false, "zero": false}, "axis": null},
        "y": {"field": "y", "type": "quantitative", "scale": {"domain": [-0.4, 0.4], "nice": false, "zero": false}, "axis": null},
        "text": {"field": "text"}
      }
    },
    {
      "data": {"values": [
        {"x":0.8923,"y":-0.3189,"text":"Support"},
        {"x":0.8923,"y":-0.3696,"text":"Phase"},
        {"x":1.0782,"y":-0.3189,"text":"Flight"},
        {"x":1.0782,"y":-0.3696,"text":"Phase"}
      ]},
      "mark": {"type": "text", "font": "Lato", "fontSize": 20, "color": "#000000", "align": "left", "baseline": "middle"},
      "encoding": {
        "x": {"field": "x", "type": "quantitative", "scale": {"domain": [0.6765, 1.5124], "nice": false, "zero": false}, "axis": null},
        "y": {"field": "y", "type": "quantitative", "scale": {"domain": [-0.4, 0.4], "nice": false, "zero": false}, "axis": null},
        "text": {"field": "text"}
      }
    },
    {
      "data": {"values": [
        {"x":1.0124,"x2":1.0591,"y":-0.3189},
        {"x":1.1382,"x2":1.1716,"y":-0.3189}
      ]},
      "mark": {"type": "rule", "stroke": "#000000", "strokeWidth": 1},
      "encoding": {
        "x": {"field": "x", "type": "quantitative", "scale": {"domain": [0.6765, 1.5124], "nice": false, "zero": false}, "axis": null},
        "x2": {"field": "x2"},
        "y": {"field": "y", "type": "quantitative", "scale": {"domain": [-0.4, 0.4], "nice": false, "zero": false}, "axis": null}
      }
    },
    {
      "data": {"values": [
        {"x":1.0162,"y":-0.3189,"dir":"left"},
        {"x":1.1716,"y":-0.3189,"dir":"right"}
      ]},
      "mark": {"type": "point", "filled": true, "size": 100, "color": "#000000", "opacity": 1},
      "encoding": {
        "x": {"field": "x", "type": "quantitative", "scale": {"domain": [0.6765, 1.5124], "nice": false, "zero": false}, "axis": null},
        "y": {"field": "y", "type": "quantitative", "scale": {"domain": [-0.4, 0.4], "nice": false, "zero": false}, "axis": null},
        "shape": {"field": "dir", "type": "nominal", "scale": {"domain": ["left", "right"], "range": ["M-1,0L1,-0.6L0.4,0L1,0.6Z", "M1,0L-1,-0.6L-0.4,0L-1,0.6Z"]}, "legend": null}
      }
    }
  ]
}
